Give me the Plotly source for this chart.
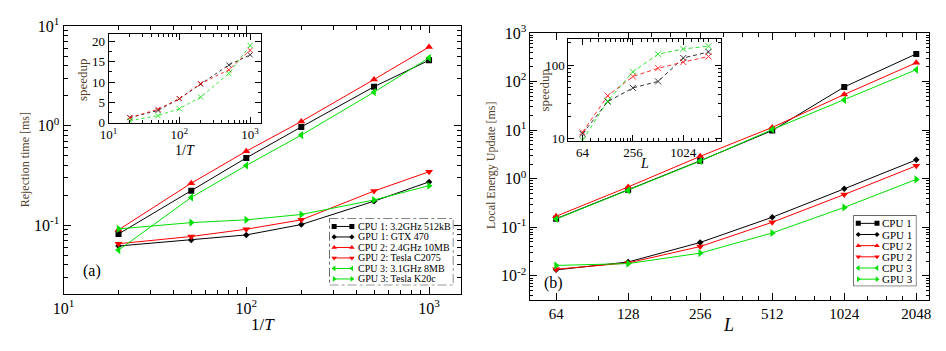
import plotly.graph_objects as go
import numpy as np

W, H = 946, 351

# ---------------- data: panel (a) ----------------
inv_T = [20, 50, 100, 200, 500, 1000]
cpu1_a = [0.0815, 0.222, 0.474, 0.97, 2.46, 4.54]
gpu1_a = [0.0617, 0.071, 0.0797, 0.1014, 0.174, 0.272]
cpu2_a = [0.0896, 0.264, 0.553, 1.10, 2.91, 6.17]
gpu2_a = [0.065, 0.0769, 0.091, 0.113, 0.22, 0.344]
cpu3_a = [0.0561, 0.19, 0.398, 0.803, 2.17, 4.8]
gpu3_a = [0.0916, 0.106, 0.113, 0.128, 0.179, 0.249]
speedup_a1 = [1.25, 3.0, 5.9, 9.5, 14.2, 16.7]
speedup_a2 = [1.2, 3.3, 5.9, 9.6, 13.0, 17.8]
speedup_a3 = [0.5, 1.7, 3.4, 6.3, 12.1, 19.0]
names_a = ["CPU 1: 3.2GHz 512kB", "GPU 1: GTX 470", "CPU 2: 2.4GHz 10MB",
           "GPU 2: Tesla C2075", "CPU 3: 3.1GHz 8MB", "GPU 3: Tesla K20c"]
decades_a_x = [1, 2, 3]
decades_a_y = [-1, 0, 1]

# ---------------- data: panel (b) ----------------
L_vals = [64, 128, 256, 512, 1024, 2048]
cpu1_b = [0.15, 0.59, 2.35, 9.85, 77.6, 372]
gpu1_b = [0.0133, 0.0193, 0.0488, 0.161, 0.62, 2.45]
cpu2_b = [0.169, 0.678, 2.89, 11.4, 54.2, 245]
gpu2_b = [0.0137, 0.0185, 0.0402, 0.127, 0.473, 1.85]
cpu3_b = [0.148, 0.575, 2.31, 10.3, 42, 176]
gpu3_b = [0.0164, 0.0179, 0.0294, 0.0764, 0.257, 0.97]
speedup_b1 = [11.6, 31.8, 49, 60, 125, 151]
speedup_b2 = [12.2, 38.3, 70, 90.6, 110, 131]
speedup_b3 = [9.5, 32.4, 81, 141, 166, 181]
names_b = ["CPU 1", "GPU 1", "CPU 2", "GPU 2", "CPU 3", "GPU 3"]
decades_b_y = [-2, -1, 0, 1, 2, 3]
inset_b_x = [64, 256, 1024]
inset_b_y = [10, 100]

# ---------------- styles ----------------
BLACK, RED, GREEN = "#000000", "#ff0000", "#00e000"
colors = [BLACK, BLACK, RED, RED, GREEN, GREEN]
symbols = ["square", "diamond", "triangle-up", "triangle-down", "triangle-left", "triangle-right"]
msizes = [6, 5, 7, 7, 7, 7]
FONT = "Liberation Serif"
TITLE_COL = "#54402a"

fig = go.Figure()

def px_dom_x(a, b):
    return [a / W, b / W]

def px_dom_y(top, bottom):
    return [1 - bottom / H, 1 - top / H]

def pow_ticks(decs):
    return [10.0 ** d for d in decs], ["10<sup>%d</sup>" % d for d in decs]

# main traces
series_a = [cpu1_a, gpu1_a, cpu2_a, gpu2_a, cpu3_a, gpu3_a]
series_b = [cpu1_b, gpu1_b, cpu2_b, gpu2_b, cpu3_b, gpu3_b]
for i, ys in enumerate(series_a):
    fig.add_trace(go.Scatter(x=inv_T, y=ys, mode="lines+markers", xaxis="x", yaxis="y",
                             line=dict(color=colors[i], width=1),
                             marker=dict(symbol=symbols[i], size=msizes[i], color=colors[i]),
                             showlegend=False))
for i, ys in enumerate(series_b):
    fig.add_trace(go.Scatter(x=L_vals, y=ys, mode="lines+markers", xaxis="x2", yaxis="y2",
                             line=dict(color=colors[i], width=1),
                             marker=dict(symbol=symbols[i], size=msizes[i], color=colors[i]),
                             showlegend=False))

# insets
for ys, c in zip([speedup_a1, speedup_a2, speedup_a3], [BLACK, RED, GREEN]):
    fig.add_trace(go.Scatter(x=inv_T, y=ys, mode="lines+markers", xaxis="x3", yaxis="y3",
                             line=dict(color=c, width=1, dash="dot"),
                             marker=dict(symbol="x-thin-open", size=5, color=c, line=dict(color=c, width=1)),
                             opacity=0.8, showlegend=False))
for ys, c in zip([speedup_b1, speedup_b2, speedup_b3], [BLACK, RED, GREEN]):
    fig.add_trace(go.Scatter(x=L_vals, y=ys, mode="lines+markers", xaxis="x4", yaxis="y4",
                             line=dict(color=c, width=1, dash="4px,3px"),
                             marker=dict(symbol="x-thin-open", size=6, color=c, line=dict(color=c, width=1)),
                             opacity=0.8, showlegend=False))

# custom legends (hidden axes in pixel units)
legA = dict(x0=323, x1=449, y0=219, y1=290)
legB = dict(x0=855, x1=919, y0=216, y1=291)
annotations = []
shapes = []
for i, name in enumerate(names_a):
    yrow = 227.8 + 11.1 * i
    fig.add_trace(go.Scatter(x=[328, 346], y=[yrow, yrow], mode="lines+markers", xaxis="x5", yaxis="y5",
                             line=dict(color=colors[i], width=1),
                             marker=dict(symbol=symbols[i], size=5 if i != 1 else 4, color=colors[i]),
                             showlegend=False, hoverinfo="skip"))
    annotations.append(dict(x=351, y=yrow, xref="x5", yref="y5", text=name, showarrow=False,
                            xanchor="left", yanchor="middle", borderpad=0,
                            font=dict(family=FONT, size=10, color="black")))
for i, name in enumerate(names_b):
    yrow = 224.5 + 11.8 * i
    fig.add_trace(go.Scatter(x=[860, 879], y=[yrow, yrow], mode="lines+markers", xaxis="x6", yaxis="y6",
                             line=dict(color=colors[i], width=1),
                             marker=dict(symbol=symbols[i], size=5 if i != 1 else 4, color=colors[i]),
                             showlegend=False, hoverinfo="skip"))
    annotations.append(dict(x=883, y=yrow, xref="x6", yref="y6", text=name, showarrow=False,
                            xanchor="left", yanchor="middle", borderpad=0,
                            font=dict(family=FONT, size=11, color="black")))
shapes.append(dict(type="rect", xref="x5", yref="y5", x0=legA["x0"], x1=legA["x1"], y0=legA["y0"], y1=legA["y1"],
                   line=dict(color="black", width=1, dash="dashdot"), fillcolor="rgba(0,0,0,0)"))
shapes.append(dict(type="rect", xref="x6", yref="y6", x0=legB["x0"], x1=legB["x1"], y0=legB["y0"], y1=legB["y1"],
                   line=dict(color="black", width=1), fillcolor="rgba(0,0,0,0)"))

def logminor(lo, hi):
    vals = []
    for k in range(lo, hi):
        for m in range(2, 10):
            vals.append(m * 10 ** k)
    return vals

def axis(domain, rng, typ="log", size=16, tlen=7, anchor=None, **kw):
    d = dict(domain=domain, range=rng, type=typ, showline=True, linecolor="black", linewidth=1,
             mirror="allticks", ticks="inside", ticklen=tlen, tickcolor="black", tickwidth=1,
             showgrid=False, zeroline=False, anchor=anchor,
             tickfont=dict(family=FONT, size=size, color="black"))
    d.update(kw)
    return d

def minor(vals, ln=4):
    return dict(ticks="inside", ticklen=ln, tickcolor="black", tickmode="array", tickvals=vals, showgrid=False)

ax_tv, ax_tt = pow_ticks(decades_a_x)
ay_tv, ay_tt = pow_ticks(decades_a_y)
by_tv, by_tt = pow_ticks(decades_b_y)

layout_axes = dict(
    xaxis=axis(px_dom_x(53.3, 457), [1, np.log10(1500)], anchor="y",
               tickmode="array", tickvals=ax_tv, ticktext=ax_tt, minor=minor(logminor(1, 4))),
    yaxis=axis(px_dom_y(16, 299), [np.log10(0.0204), 1], anchor="x",
               tickmode="array", tickvals=ay_tv, ticktext=ay_tt, minor=minor(logminor(-2, 1))),
    xaxis2=axis(px_dom_x(527.3, 931.3), [np.log10(50), np.log10(2304)], anchor="y2", size=15,
                tickmode="array", tickvals=L_vals, ticktext=[str(v) for v in L_vals],
                minor=minor([96, 160, 192, 224, 320, 384, 448, 640, 768, 896, 1280, 1536, 1792])),
    yaxis2=axis(px_dom_y(23.3, 306), [np.log10(0.00312), 3], anchor="x2",
                tickmode="array", tickvals=by_tv, ticktext=by_tt, minor=minor(logminor(-3, 3), 3)),
    xaxis3=axis(px_dom_x(99, 254), [1, 3.157], anchor="y3", size=13, tlen=6,
                tickmode="array", tickvals=ax_tv, ticktext=ax_tt, minor=minor(logminor(1, 4), 3)),
    yaxis3=axis(px_dom_y(24, 118), [0, 21.9], typ="linear", anchor="x3", size=13, tlen=6,
                tickmode="array", tickvals=[0, 5, 10, 15, 20],
                minor=dict(ticks="inside", ticklen=3, tickcolor="black", dtick=2.5, tick0=0, showgrid=False)),
    xaxis4=axis(px_dom_x(565.7, 720.3), [np.log10(43.3), np.log10(2860)], anchor="y4", size=13, tlen=6,
                tickmode="array", tickvals=inset_b_x, ticktext=[str(v) for v in inset_b_x],
                minor=minor([80, 100, 120, 140, 160, 180, 200, 220, 240, 320, 384, 448, 512, 640, 768, 896,
                             1280, 1536, 1792, 2048, 2560], 3)),
    yaxis4=axis(px_dom_y(30, 137.3), [np.log10(9.3), np.log10(224)], anchor="x4", size=13, tlen=6,
                tickmode="array", tickvals=inset_b_y, ticktext=[str(v) for v in inset_b_y],
                minor=minor([20, 30, 40, 50, 60, 70, 80, 90, 200], 3)),
    xaxis5=dict(domain=px_dom_x(legA["x0"], legA["x1"]), range=[legA["x0"], legA["x1"]], visible=False, anchor="y5"),
    yaxis5=dict(domain=px_dom_y(legA["y0"], legA["y1"]), range=[legA["y1"], legA["y0"]], visible=False, anchor="x5"),
    xaxis6=dict(domain=px_dom_x(legB["x0"], legB["x1"]), range=[legB["x0"], legB["x1"]], visible=False, anchor="y6"),
    yaxis6=dict(domain=px_dom_y(legB["y0"], legB["y1"]), range=[legB["y1"], legB["y0"]], visible=False, anchor="x6"),
)

def pann(x, y, text, size, color="black", angle=0):
    return dict(x=x / W, y=1 - y / H, xref="paper", yref="paper", text=text, showarrow=False,
                xanchor="center", yanchor="middle", textangle=angle,
                font=dict(family=FONT, size=size, color=color))

annotations += [
    pann(256, 331, "1/<i>T</i>", 17),
    pann(14, 157, "Rejection time [ms]", 12, TITLE_COL, -90),
    pann(728, 332, "<i>L</i>", 18),
    pann(487, 163, "Local Energy Update [ms]", 12, TITLE_COL, -90),
    pann(177, 147, "1/<i>T</i>", 14),
    pann(72, 72, "speedup", 13, TITLE_COL, -90),
    pann(643, 161, "<i>L</i>", 14),
    pann(542, 83, "speedup", 13, TITLE_COL, -90),
    pann(82, 275, "(a)", 16),
    pann(551, 288, "(b)", 16),
]

fig.update_layout(
    width=W, height=H, margin=dict(l=0, r=0, t=0, b=0),
    paper_bgcolor="white", plot_bgcolor="white",
    font=dict(family=FONT, color="black"),
    annotations=annotations, shapes=shapes, showlegend=False,
    **layout_axes,
)

fig.write_html("out.html")
